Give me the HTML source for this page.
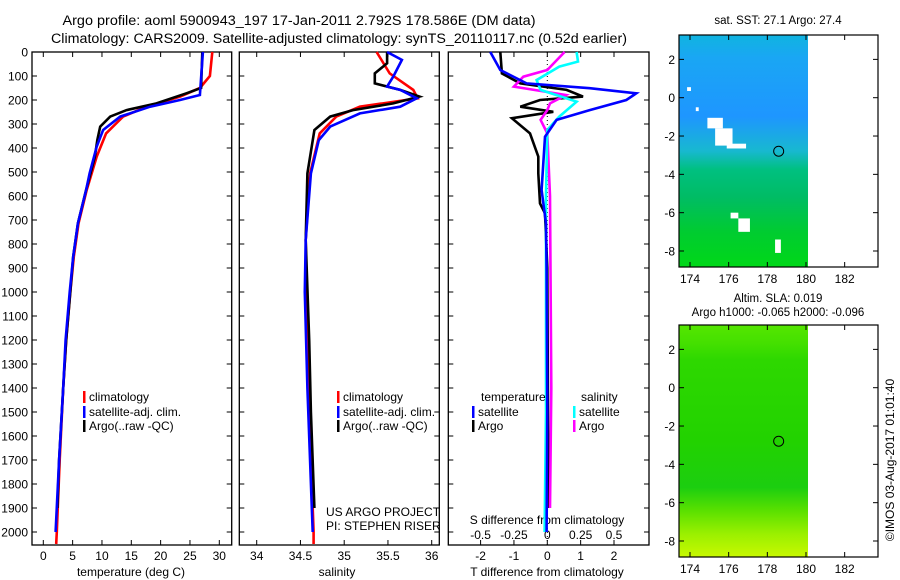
<!DOCTYPE html>
<html><head><meta charset="utf-8">
<style>
html,body{margin:0;padding:0;background:#fff;}
svg{display:block;font-family:"Liberation Sans",sans-serif;}
</style></head>
<body>
<svg id="fig" width="900" height="580" viewBox="0 0 900 580">
<text x="299" y="25" text-anchor="middle" font-size="13.5" textLength="473" lengthAdjust="spacingAndGlyphs">Argo profile: aoml 5900943_197 17-Jan-2011 2.792S 178.586E (DM data)</text>
<text x="339" y="43" text-anchor="middle" font-size="13.5" textLength="576" lengthAdjust="spacingAndGlyphs">Climatology: CARS2009. Satellite-adjusted climatology: synTS_20110117.nc (0.52d earlier)</text>
<g id="layer"></g>
</svg>
<script>
// ---------- data ----------
const depthTicks=[0,100,200,300,400,500,600,700,800,900,1000,1100,1200,1300,1400,1500,1600,1700,1800,1900,2000];
const tempTicks=[0,5,10,15,20,25,30];
const salTicks=[34,34.5,35,35.5,36];
const tdiffTicks=[-2,-1,0,1,2];
const sdiffTicks=[-0.5,-0.25,0,0.25,0.5];
const sdiffLabels=["-0.5","-0.25","0","0.25","0.5"];

const tClimDepth=[0,100,150,186,228,269,339,436,575,714,853,1000,1200,1400,1700,2000,2050];
const tClimVal=[28.8,28.4,26.7,23.3,17.6,13.6,10.7,9.1,7.4,6.0,5.2,4.6,3.9,3.4,2.8,2.3,2.2];
const tArgoDepth=[0,150,172,214,242,269,311,367,436,575,714,853,1000,1200,1400,1700,1900];
const tArgoVal=[27.1,26.9,24.4,19.3,14.2,11.4,9.7,9.2,8.8,7.3,5.9,5.1,4.6,3.9,3.4,2.7,2.4];
const tSatDepth=[0,179,200,228,269,325,394,506,575,714,853,1000,1200,1400,1700,2000];
const tSatVal=[27.2,26.7,23.3,18.2,13.1,10.2,9.1,7.9,7.3,5.9,5.1,4.5,3.8,3.4,2.7,2.1];

const sClimDepth=[0,89,158,193,228,269,339,506,783,1000,1500,2000,2050];
const sClimVal=[35.37,35.52,35.79,35.84,35.18,34.91,34.72,34.61,34.56,34.57,34.6,34.65,34.65];
const sArgoDepth=[0,47,89,131,158,186,214,242,269,325,506,783,1200,1500,1900];
const sArgoVal=[35.49,35.49,35.35,35.35,35.64,35.86,35.56,35.1,34.84,34.66,34.58,34.56,34.6,34.62,34.66];
const sSatDepth=[0,33,103,144,158,193,228,256,311,367,506,783,1000,1400,2000];
const sSatVal=[35.49,35.66,35.56,35.49,35.64,35.83,35.64,35.18,34.84,34.71,34.62,34.56,34.55,34.58,34.64];

const dtSatDepth=[0,75,131,151,172,200,242,283,353,575,714,900,1500,2000];
const dtSatVal=[-1.71,-1.41,-0.62,1.27,2.67,2.37,1.27,0.28,-0.07,-0.17,-0.04,-0.02,0,-0.02];
const dtArgoDepth=[0,89,131,158,186,200,228,249,276,339,436,506,631,672,900,1500,1900];
const dtArgoVal=[-1.41,-1.36,-0.81,0.58,1.07,-0.22,-0.81,0.18,-1.06,-0.52,-0.27,-0.27,-0.22,-0.07,0,0.02,0.03];
const dsArgoDepth=[0,75,103,144,179,214,242,283,339,600,1400,1900];
const dsArgoVal=[0.13,0,-0.18,-0.25,0.14,0.02,0,-0.05,0,0.02,0.03,0.02];
const dsSatDepth=[0,40,61,117,158,207,269,325,600,1500,2000];
const dsSatVal=[0.22,0.23,0.09,-0.08,-0.05,0.22,0.09,0,-0.01,-0.01,-0.02];

const lonTicks=[174,176,178,180,182];
const latTicks=[2,0,-2,-4,-6,-8];
const argoLon=178.586, argoLat=-2.792;

// ---------- helpers ----------
const NS="http://www.w3.org/2000/svg";
const layer=document.getElementById('layer');
function mk(tag,attrs,parent){const e=document.createElementNS(NS,tag);for(const k in attrs)e.setAttribute(k,attrs[k]);(parent||layer).appendChild(e);return e;}
const TOP=52, BOT=545, PXM=0.24;
const yD=d=>TOP+d*PXM;
function lin(v0,x0,v1,x1){return v=>x0+(v-v0)*(x1-x0)/(v1-v0);}
const xT=lin(0,43.3,30,219.3);
const xS=lin(34,256.7,36,431.7);
const xDT=lin(0,547.3,2,614);
const xDS=lin(0,547.3,0.5,614);

function frame(x0,x1,name){
  const r=mk('rect',{x:x0,y:TOP,width:x1-x0,height:BOT-TOP,fill:'none',stroke:'#000','stroke-width':1.3});
  
  
}
function series(dep,val,xf,color,name,w){
  const pts=dep.map((d,i)=>xf(val[i]).toFixed(1)+','+yD(d).toFixed(1)).join(' ');
  const p=mk('polyline',{points:pts,fill:'none',stroke:color,'stroke-width':w||2.6,'stroke-linejoin':'miter'});
  
  
}
function txt(x,y,s,size,anchor,name){
  const t=mk('text',{x:x,y:y,'font-size':size,'text-anchor':anchor||'start'});
  t.textContent=s;
  
  
  return t;
}
function xticks(ticks,xf,labels,ly,name,tickYTop,tickYBot){
  ticks.forEach((v,i)=>{
    const x=xf(v);
    mk('line',{x1:x,y1:TOP,x2:x,y2:TOP+5,stroke:'#000'});
    mk('line',{x1:x,y1:tickYBot,x2:x,y2:tickYBot-5,stroke:'#000'});
    txt(x,ly,labels?labels[i]:String(v),12,'middle',name);
  });
}
// ---------- panel frames ----------
frame(32,231.7,'temperature-panel');
frame(239.3,439.3,'salinity-panel');
frame(448.3,649,'difference-panel');

// depth axis
depthTicks.forEach(d=>{
  const y=yD(d);
  mk('line',{x1:32,y1:y,x2:37,y2:y,stroke:'#000'});
  mk('line',{x1:231.7,y1:y,x2:226.7,y2:y,stroke:'#000'});
  mk('line',{x1:239.3,y1:y,x2:244.3,y2:y,stroke:'#000'});
  mk('line',{x1:439.3,y1:y,x2:434.3,y2:y,stroke:'#000'});
  mk('line',{x1:448.3,y1:y,x2:453.3,y2:y,stroke:'#000'});
  mk('line',{x1:649,y1:y,x2:644,y2:y,stroke:'#000'});
  txt(28,y+4.5,String(d),12,'end','depth-tick-label');
});
xticks(tempTicks,xT,null,560,'temperature-tick-label',TOP,BOT);
xticks(salTicks,xS,null,560,'salinity-tick-label',TOP,BOT);
xticks(tdiffTicks,xDT,null,560,'t-difference-tick-label',TOP,BOT);
sdiffTicks.forEach((v,i)=>{txt(xDS(v),539,sdiffLabels[i],12,'middle','s-difference-tick-label');});
txt(131,576,'temperature (deg C)',12,'middle','temperature-axis-title');
txt(337,576,'salinity',12,'middle','salinity-axis-title');
txt(547,576,'T difference from climatology',12,'middle','t-difference-axis-title');
txt(547,524,'S difference from climatology',12,'middle','s-difference-axis-title');

// zero dotted line
const z=mk('line',{x1:xDT(0),y1:TOP,x2:xDT(0),y2:BOT,stroke:'#000','stroke-width':1,'stroke-dasharray':'1,3'});



// ---------- series ----------
series(tClimDepth,tClimVal,xT,'#ff0000','temperature-climatology-line');
series(tArgoDepth,tArgoVal,xT,'#000000','temperature-argo-line');
series(tSatDepth,tSatVal,xT,'#0000ff','temperature-satellite-line');
series(sClimDepth,sClimVal,xS,'#ff0000','salinity-climatology-line');
series(sArgoDepth,sArgoVal,xS,'#000000','salinity-argo-line');
series(sSatDepth,sSatVal,xS,'#0000ff','salinity-satellite-line');
series(dtArgoDepth,dtArgoVal,xDT,'#000000','t-difference-argo-line');
series(dsArgoDepth,dsArgoVal,xDS,'#ff00ff','s-difference-argo-line');
series(dsSatDepth,dsSatVal,xDS,'#00ffff','s-difference-satellite-line');
series(dtSatDepth,dtSatVal,xDT,'#0000ff','t-difference-satellite-line');

// ---------- legends ----------
function legend(mx,y,color,label,name){
  const r=mk('rect',{x:mx,y:y-10,width:2.5,height:12,fill:color});
  
  
  txt(mx+6,y,label,12,'start',name);
}
legend(83,401,'#ff0000','climatology','legend-climatology');
legend(83,416,'#0000ff','satellite-adj. clim.','legend-satellite-adj');
legend(83,430,'#000000','Argo(..raw -QC)','legend-argo');
legend(337,401,'#ff0000','climatology','legend2-climatology');
legend(337,416,'#0000ff','satellite-adj. clim.','legend2-satellite-adj');
legend(337,430,'#000000','Argo(..raw -QC)','legend2-argo');
txt(481,401,'temperature',12,'start','legend-temperature-heading');
txt(581,401,'salinity',12,'start','legend-salinity-heading');
legend(472,416,'#0000ff','satellite','legend-t-satellite');
legend(472,430,'#000000','Argo','legend-t-argo');
legend(573,416,'#00ffff','satellite','legend-s-satellite');
legend(573,430,'#ff00ff','Argo','legend-s-argo');
txt(326,516,'US ARGO PROJECT',12,'start','project-label');
txt(326,530,'PI: STEPHEN RISER',12,'start','pi-label');

// ---------- maps ----------
const mlon=lin(174,690,180,806);
const mlat=lin(0,97.7,-8,251);
function map(dy,gradStops,id,title1,title2,name){
  const g=mk('g',{transform:'translate(0,'+dy+')'});
  
  
  const defs=mk('defs',{},g);
  const lg=mk('linearGradient',{id:id,x1:0,y1:0,x2:0,y2:1},defs);
  gradStops.forEach(s=>mk('stop',{offset:s[0],'stop-color':s[1]},lg));
  mk('rect',{x:679,y:35,width:129,height:232,fill:'url(#'+id+')'},g);
  const c=mk('circle',{cx:mlon(argoLon),cy:mlat(argoLat),r:5,fill:'none',stroke:'#000','stroke-width':1},g);
  
  
  mk('rect',{x:679,y:35,width:199,height:232,fill:'none',stroke:'#000','stroke-width':1.2},g);
  lonTicks.forEach(v=>{const x=mlon(v);
    mk('line',{x1:x,y1:35,x2:x,y2:40,stroke:'#000'},g);
    mk('line',{x1:x,y1:267,x2:x,y2:262,stroke:'#000'},g);
    const t=mk('text',{x:x,y:283,'font-size':12,'text-anchor':'middle'},g);t.textContent=String(v);
    
    });
  latTicks.forEach(v=>{const y=mlat(v);
    mk('line',{x1:679,y1:y,x2:684,y2:y,stroke:'#000'},g);
    mk('line',{x1:878,y1:y,x2:873,y2:y,stroke:'#000'},g);
    const t=mk('text',{x:675,y:y+4.5,'font-size':12,'text-anchor':'end'},g);t.textContent=String(v);
    
    });
  return g;
}
const m1=map(0,[[0,'#10b4e0'],[0.1,'#1aa6f4'],[0.35,'#1e96ff'],[0.5,'#18b8d0'],[0.58,'#00c080'],[0.7,'#00bc64'],[0.85,'#00cc30'],[1,'#00d818']],'g1','','','sst-map');
// white patches
[[174.9,-1.05,175.7,-1.6],[175.3,-1.6,176.2,-2.5],[175.9,-2.4,176.9,-2.65],[176.1,-6.0,176.5,-6.3],[176.5,-6.3,177.1,-7.0],[178.4,-7.4,178.7,-8.1],[174.3,-0.5,174.45,-0.7],[173.85,0.55,174.05,0.35]].forEach(r=>{
  const e=mk('rect',{x:mlon(r[0]),y:mlat(r[1]),width:mlon(r[2])-mlon(r[0]),height:mlat(r[3])-mlat(r[1]),fill:'#fff'},m1);
  
  
});
txt(778,24,'sat. SST: 27.1  Argo: 27.4',11.5,'middle','sst-map-title');
const m2=map(290-35+35,[[0,'#55e600'],[0.08,'#44e000'],[0.15,'#2ed800'],[0.5,'#22d200'],[0.7,'#1cce10'],[0.8,'#5ae000'],[0.9,'#9af000'],[1,'#c8f800']],'g2','','','sla-map');
m2.setAttribute('transform','translate(0,290)');
txt(778,302,'Altim. SLA: 0.019',11.5,'middle','sla-map-title');
txt(778,316,'Argo h1000: -0.065  h2000: -0.096',11.5,'middle','sla-map-subtitle');
const cr=txt(0,0,'\u00A9IMOS 03-Aug-2017 01:01:40',12,'middle','imos-credit');
cr.setAttribute('transform','translate(894,460) rotate(-90)');
</script>
</body></html>
